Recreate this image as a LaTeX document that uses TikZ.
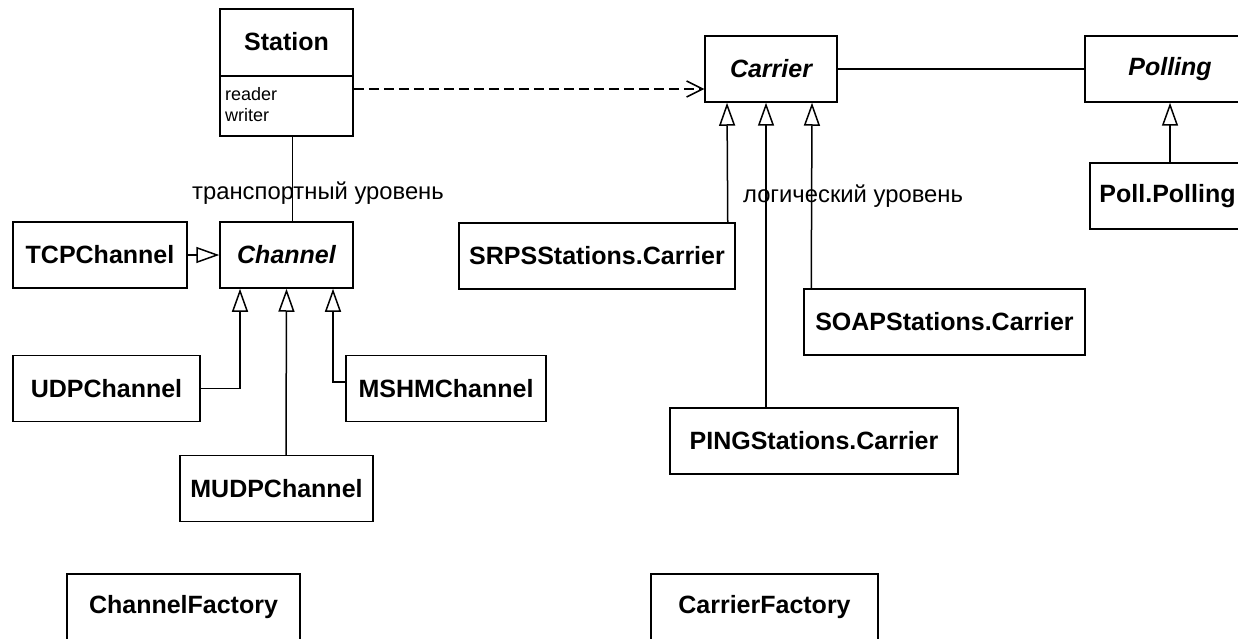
\documentclass[tikz,border=0pt]{standalone}
\usepackage{fontspec}
\setmainfont{Liberation Sans}
\usetikzlibrary{arrows.meta,calc}
\begin{document}
\begin{tikzpicture}[x=1pt,y=-1pt,
  cls/.style={draw, line width=1.5pt, inner sep=0pt, font=\fontsize{25}{30}\selectfont\bfseries, minimum height=66pt},
  abscls/.style={cls, font=\fontsize{25}{30}\selectfont\bfseries\itshape},
  gen/.style={line width=1.5pt, -{Triangle[open, length=23pt, width=16pt, fill=white]}},
  dep/.style={line width=1.5pt, dash pattern=on 10pt off 5pt, -{Straight Barb[length=16pt,width=16pt]}},
  lbl/.style={font=\fontsize{23.8}{28}\selectfont, inner sep=0pt},
  attr/.style={font=\fontsize{18}{21}\selectfont, inner sep=0pt, align=left}
]
\useasboundingbox (0,0) rectangle (1238,639);
\clip (0,0) rectangle (1238,639);

% Station
\node[cls, minimum width=133pt, minimum height=127pt] (st) at (286.5,72.5) {};
\draw[line width=1.5pt] ($(st.west)+(0,3.5)$) -- ($(st.east)+(0,3.5)$);
\node[font=\fontsize{25}{30}\selectfont\bfseries, inner sep=0pt] (stname) at (286.5,42) {Station};
\node[attr, anchor=west] (stattr) at (225,104.5) {reader\\writer};

% classes
\node[abscls, minimum width=132pt] (car) at (771,69) {Carrier};
\node[abscls, minimum width=170pt] (pol) at (1170,69) {Polling};
\node[cls, minimum width=155pt] (poll) at (1167.5,196) {Poll.Polling};
\node[cls, minimum width=276pt] (srps) at (597,256) {SRPSStations.Carrier};
\node[cls, minimum width=281pt] (soap) at (944.5,322) {SOAPStations.Carrier};
\node[cls, minimum width=288pt] (ping) at (814,441) {PINGStations.Carrier};
\node[cls, minimum width=174pt] (tcp) at (100,255) {TCPChannel};
\node[abscls, minimum width=133pt] (ch) at (286.5,255) {Channel};
\node[cls, minimum width=187pt] (udp) at (106.5,388.5) {UDPChannel};
\node[cls, minimum width=200pt] (mshm) at (446,388.5) {MSHMChannel};
\node[cls, minimum width=193pt] (mudp) at (276.5,488.5) {MUDPChannel};
\node[cls, minimum width=233pt] (cf) at (183.5,607) {ChannelFactory};
\node[cls, minimum width=227pt] (carf) at (764.5,607) {CarrierFactory};

% connectors
\draw[dep] ($(st.east)+(0,16.5)$) -- ($(car.west)+(0,20)$);
\draw[line width=1.5pt] (car.east) -- (pol.west);
\draw[line width=1.5pt] ($(st.south)+(6,0)$) -- ($(ch.north)+(6,0)$);
\draw[gen] ($(poll.north)+(2.5,0)$) -- (pol.south);
\draw[gen] ($(srps.north east)+(-8,0)$) -- ($(car.south)+(-44,0)$);
\draw[gen] ($(ping.north)+(-48,0)$) -- ($(car.south)+(-5,0)$);
\draw[gen] ($(soap.north west)+(8,0)$) -- ($(car.south)+(41,0)$);
\draw[gen] (tcp.east) -- (ch.west);
\draw[gen] (udp.east) -| ($(ch.south)+(-46.5,0)$);
\draw[gen] ($(mshm.west)+(0,-6.5)$) -| ($(ch.south)+(46.5,0)$);
\draw[gen] ($(mudp.north)+(9.5,0)$) -- ($(ch.south)+(0,0)$);

% labels
\node[lbl] (tl) at (318,193) {транспортный уровень};
\node[lbl] (ll) at (853,196) {логический уровень};
\end{tikzpicture}
\end{document}
